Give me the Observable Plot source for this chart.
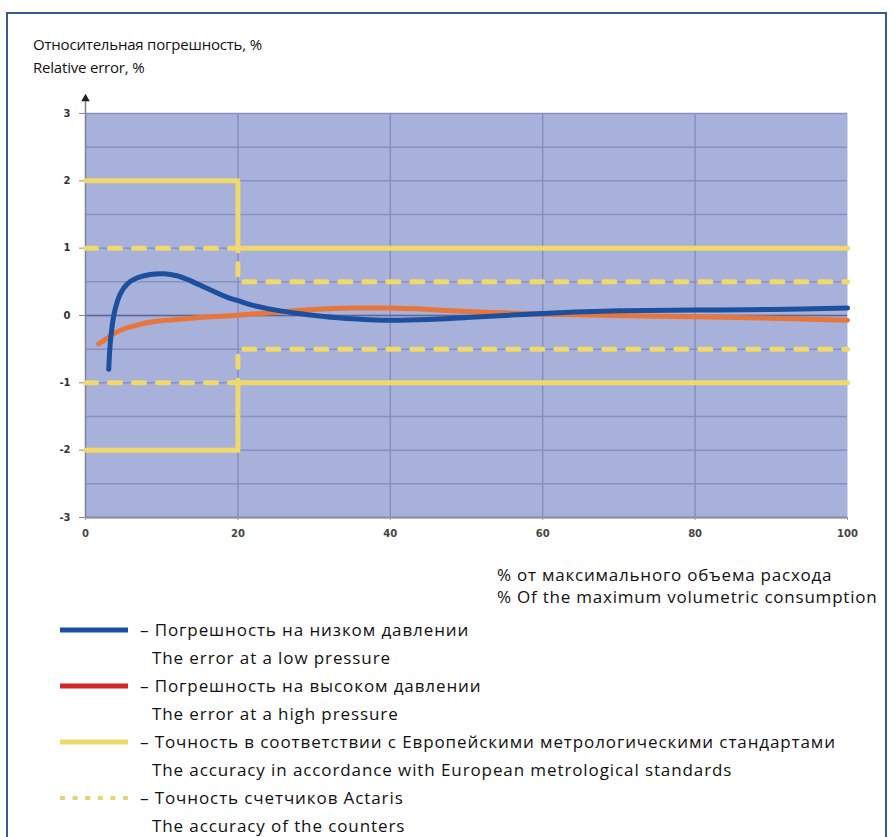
<!DOCTYPE html>
<html><head><meta charset="utf-8">
<script src="https://cdn.jsdelivr.net/npm/d3@7"></script>
<script src="https://cdn.jsdelivr.net/npm/@observablehq/plot@0.6"></script>
<style>
html,body{margin:0;padding:0;background:#fff;}
body{width:894px;height:837px;position:relative;overflow:hidden;font-family:"Open Sans","Noto Sans",sans-serif;}
#frame{position:absolute;left:6px;top:12px;width:881px;height:840px;border:2px solid #3a5a8e;box-sizing:border-box;}
.t{position:absolute;font-size:15px;color:#111;white-space:nowrap;line-height:18px;letter-spacing:-0.2px;}
.b{font-size:17px;letter-spacing:0.9px;line-height:20px;}
.xt{letter-spacing:0.78px;}
#chart{position:absolute;left:0;top:0;}
.sw{position:absolute;}
</style></head>
<body>
<div id="frame"></div>
<div class="t" style="left:33px;top:35px;">Относительная погрешность, %</div>
<div class="t" style="left:33px;top:58px;">Relative error, %</div>
<div id="chart"></div>
<div class="t b xt" style="left:497px;top:565px;">% от максимального объема расхода</div>
<div class="t b xt" style="left:497px;top:587px;">% Of the maximum volumetric consumption</div>
<div id="legend"></div>
<script>
// ---- data ----
const xTicks = [0, 20, 40, 60, 80, 100];
const yTicks = [-3, -2, -1, 0, 1, 2, 3];
const yMinor = [-2.5, -1.5, -0.5, 0.5, 1.5, 2.5];
const xGrid = [20, 40, 60, 80];

// error at low pressure (blue)
const lowX = [3.05, 3.3, 3.8, 4.6, 5.5, 6.8, 8.5, 10.3, 12, 13.5, 16, 18.6, 20, 22, 25, 28, 31, 35, 39, 45, 50, 55, 60, 70, 80, 90, 100];
const lowY = [-0.8, -0.35, 0.05, 0.33, 0.47, 0.56, 0.61, 0.62, 0.59, 0.53, 0.4, 0.27, 0.22, 0.15, 0.08, 0.03, -0.01, -0.05, -0.07, -0.06, -0.03, 0.0, 0.03, 0.07, 0.08, 0.09, 0.11];

// error at high pressure (orange)
const highX = [1.7, 2.7, 3.7, 5, 6.5, 9, 12, 15, 19.5, 25, 30, 35, 40, 45, 50, 55, 60, 70, 80, 90, 100];
const highY = [-0.42, -0.35, -0.27, -0.2, -0.15, -0.09, -0.06, -0.03, 0.0, 0.05, 0.09, 0.11, 0.11, 0.09, 0.06, 0.04, 0.02, 0.0, -0.02, -0.04, -0.07];

// European metrological standard limits (solid yellow)
const stdX = [0, 20, 20, 100];
const stdUpper = [2, 2, 1, 1];
const stdLower = [-2, -2, -1, -1];

// Actaris counters accuracy (dashed yellow)
const actX = [0, 20, 20, 100];
const actUpper = [1, 1, 0.5, 0.5];
const actLower = [-1, -1, -0.5, -0.5];

const legendItems = [
  {ru: "– Погрешность на низком давлении", en: "The error at a low pressure", kind: "low"},
  {ru: "– Погрешность на высоком давлении", en: "The error at a high pressure", kind: "high"},
  {ru: "– Точность в соответствии с Европейскими метрологическими стандартами", en: "The accuracy in accordance with European metrological standards", kind: "std"},
  {ru: "– Точность счетчиков Actaris", en: "The accuracy of the counters", kind: "act"}
];

// ---- styles ----
const C = {bg: "#a8b1d9", grid: "#8690c2", zero: "#5d6794", blue: "#1c4f9e", orange: "#e6763c", yellow: "#f0d96c", red: "#d3262a"};

const pts = (xs, ys) => xs.map((x, i) => ({x, y: ys[i]}));
const low = pts(lowX, lowY);
const high = pts(highX, highY);
const stdU = pts(stdX, stdUpper), stdL = pts(stdX, stdLower);
const actU = pts(actX, actUpper), actL = pts(actX, actLower);

const chart = Plot.plot({
  width: 894, height: 545,
  marginLeft: 85, marginRight: 47, marginTop: 113, marginBottom: 28,
  style: {background: "transparent", fontFamily: "DejaVu Sans, sans-serif"},
  x: {domain: [0, 100]},
  y: {domain: [-3, 3]},
  marks: [
    Plot.frame({fill: C.bg, stroke: null}),
    Plot.ruleY(yTicks.concat(yMinor), {stroke: C.grid, strokeWidth: 1.5}),
    Plot.ruleX(xGrid, {stroke: C.grid, strokeWidth: 1.5}),
    Plot.ruleY([0], {stroke: C.zero, strokeWidth: 1.5}),
    Plot.ruleY([-3], {stroke: "#8a8fa8", strokeWidth: 2}),
    Plot.link([{x: 0, y1: -3, y2: 3.2}], {x1: "x", x2: "x", y1: "y1", y2: "y2", stroke: "#7c819c", strokeWidth: 1.5}),
    Plot.dot([{x: 0, y: 3.22}], {x: "x", y: "y", symbol: "triangle", r: 3.2, fill: "#222", stroke: null}),
    Plot.axisY({ticks: yTicks, tickSize: 6, tickPadding: 9, tickFormat: d => String(d), fontSize: 10, fontWeight: "bold", color: "#333", stroke: "#888", label: null}),
    Plot.axisX({ticks: xTicks, tickSize: 3, tickPadding: 9, fontSize: 10, fontWeight: "bold", color: "#444", stroke: "#999", label: null}),
    Plot.line(actU, {x: "x", y: "y", stroke: C.yellow, strokeWidth: 5, strokeDasharray: "11,13", strokeLinecap: "round"}),
    Plot.line(actL, {x: "x", y: "y", stroke: C.yellow, strokeWidth: 5, strokeDasharray: "11,13", strokeLinecap: "round"}),
    Plot.line(stdU, {x: "x", y: "y", stroke: C.yellow, strokeWidth: 5}),
    Plot.line(stdL, {x: "x", y: "y", stroke: C.yellow, strokeWidth: 5}),
    Plot.line(high, {x: "x", y: "y", stroke: C.orange, strokeWidth: 5, curve: "catmull-rom"}),
    Plot.line(low, {x: "x", y: "y", stroke: C.blue, strokeWidth: 5, curve: "catmull-rom"})
  ]
});
document.getElementById("chart").appendChild(chart);

// ---- legend ----
const leg = document.getElementById("legend");
const top0 = 620, step = 28;
legendItems.forEach((it, i) => {
  const yRu = top0 + i * 2 * step;
  const sw = document.createElementNS("http://www.w3.org/2000/svg", "svg");
  sw.setAttribute("class", "sw");
  sw.setAttribute("width", 80); sw.setAttribute("height", 10);
  sw.style.left = "58px"; sw.style.top = (yRu + 5) + "px";
  const ln = document.createElementNS("http://www.w3.org/2000/svg", "line");
  ln.setAttribute("x1", 2); ln.setAttribute("x2", 70); ln.setAttribute("y1", 5); ln.setAttribute("y2", 5);
  const col = it.kind === "low" ? C.blue : it.kind === "high" ? C.red : C.yellow;
  ln.setAttribute("stroke", col);
  ln.setAttribute("stroke-width", it.kind === "act" ? 4 : 5);
  if (it.kind === "act") { ln.setAttribute("stroke-dasharray", "5,7.6"); ln.setAttribute("stroke", "#e2d478"); }
  sw.appendChild(ln);
  leg.appendChild(sw);
  const a = document.createElement("div"); a.className = "t b"; a.textContent = it.ru;
  a.style.left = "140px"; a.style.top = yRu + "px"; leg.appendChild(a);
  const b = document.createElement("div"); b.className = "t b"; b.textContent = it.en;
  b.style.left = "152px"; b.style.top = (yRu + step) + "px"; leg.appendChild(b);
});
</script>
</body></html>
